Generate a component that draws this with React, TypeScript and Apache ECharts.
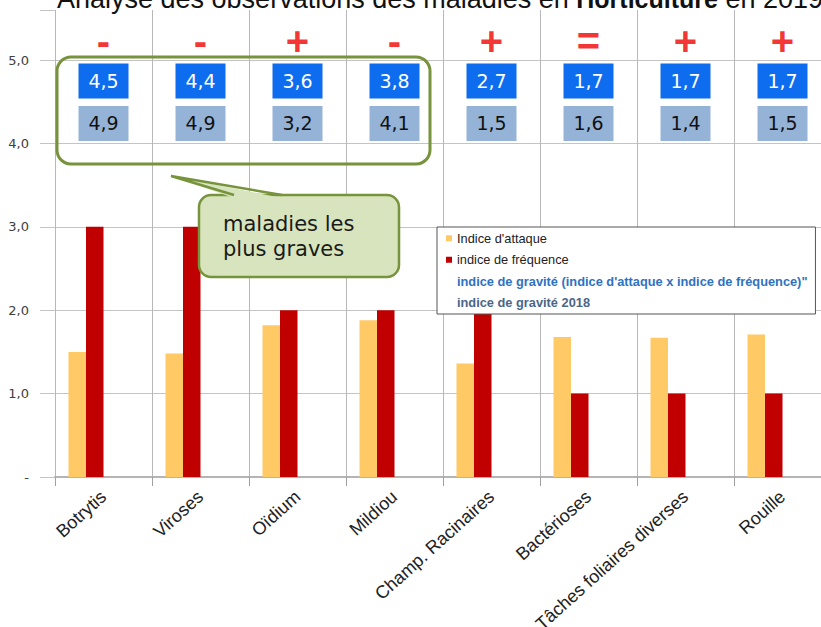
import React, { useEffect, useRef } from "react";
import * as echarts from "echarts";

const categories = [
  "Botrytis",
  "Viroses",
  "Oïdium",
  "Mildiou",
  "Champ. Racinaires",
  "Bactérioses",
  "Tâches foliaires diverses",
  "Rouille",
];
const indiceAttaque = [1.5, 1.48, 1.82, 1.88, 1.36, 1.68, 1.67, 1.71];
const indiceFrequence = [3, 3, 2, 2, 2, 1, 1, 1];
const indiceGravite = [4.5, 4.4, 3.6, 3.8, 2.7, 1.7, 1.7, 1.7];
const indiceGravite2018 = [4.9, 4.9, 3.2, 4.1, 1.5, 1.6, 1.4, 1.5];
const tendances = ["-", "-", "+", "-", "+", "=", "+", "+"];
const yTicks = [0, 1, 2, 3, 4, 5];

const NAME_ATT = "Indice d'attaque";
const NAME_FREQ = "indice de fréquence";
const NAME_GRAV = "indice de gravité (indice d'attaque x indice de fréquence)\"";
const NAME_GRAV18 = "indice de gravité 2018";
const TITLE_A = "Analyse des observations des maladies en ";
const TITLE_B = "Horticulture";
const TITLE_C = " en 2019";

// layout rows (value-axis positions of the annotation rows)
const ROW_SIGN = 5.23;
const ROW_GRAV = 4.75;
const ROW_GRAV18 = 4.24;

const fmt = (v: number) => v.toFixed(1).replace(".", ",");

export default function App() {
  const ref = useRef<HTMLDivElement>(null);
  useEffect(() => {
    document.body.style.margin = "0";
    const chart = echarts.init(ref.current!, null, { renderer: "svg" });
    const splitColors = yTicks.map(() => "#C4C4C4").concat(["rgba(0,0,0,0)"]);
    const option: any = {
      animation: false,
      backgroundColor: "#ffffff",
      grid: {
        left: 55,
        top: 10,
        right: 9,
        bottom: 150,
        containLabel: false,
        outerBoundsMode: "none",
      },
      legend: {
        orient: "vertical",
        left: 437,
        top: 227,
        itemWidth: 6,
        itemHeight: 6,
        itemGap: 7,
        icon: "rect",
        padding: [4, 8, 4, 9],
        backgroundColor: "#ffffff",
        borderColor: "#555555",
        borderWidth: 1,
        borderRadius: 0,
        selectedMode: false,
        textStyle: { fontFamily: "Liberation Sans", fontSize: 12.8, color: "#222", lineHeight: 14.5 },
        data: [
          { name: NAME_ATT },
          { name: NAME_FREQ },
          {
            name: NAME_GRAV,
            itemStyle: { opacity: 0 },
            textStyle: { color: "#2E72C2", fontWeight: "bold" },
          },
          {
            name: NAME_GRAV18,
            itemStyle: { opacity: 0 },
            textStyle: { color: "#4B6688", fontWeight: "bold" },
          },
        ],
      },
      xAxis: {
        type: "category",
        data: categories,
        boundaryGap: true,
        axisLine: { show: true, lineStyle: { color: "#B4B4B4", width: 2 } },
        axisTick: { show: true, length: 9, interval: 0, lineStyle: { color: "#A0A0A0" } },
        splitLine: { show: true, interval: 0, lineStyle: { color: "#B8B8B8", width: 1 } },
        axisLabel: {
          interval: 0,
          rotate: 42,
          margin: 17,
          fontFamily: "Liberation Sans",
          fontSize: 18,
          color: "#222",
        },
      },
      yAxis: {
        type: "value",
        min: 0,
        max: 5.6,
        interval: 1,
        axisLine: { show: false },
        axisTick: { show: true, length: 15, lineStyle: { color: "#C4C4C4" } },
        splitLine: { show: true, lineStyle: { color: splitColors, width: 1 } },
        axisLabel: {
          margin: 26,
          fontFamily: "DejaVu Sans",
          fontSize: 13,
          color: "#404040",
          formatter: (v: number) => (v === 0 ? "-" : Number.isInteger(v) ? fmt(v) : ""),
        },
      },
      series: [
        {
          name: NAME_ATT,
          type: "bar",
          data: indiceAttaque,
          barWidth: 17.5,
          barGap: "0%",
          itemStyle: { color: "#FFC966" },
          z: 2,
        },
        {
          name: NAME_FREQ,
          type: "bar",
          data: indiceFrequence,
          barWidth: 17.5,
          barGap: "0%",
          itemStyle: { color: "#C00000" },
          z: 2,
        },
        { name: "_slot3", type: "bar", data: categories.map(() => null), barWidth: 17.5, barGap: "0%" },
        { name: "_slot4", type: "bar", data: categories.map(() => null), barWidth: 17.5, barGap: "0%" },
        {
          name: NAME_GRAV,
          type: "scatter",
          symbol: "rect",
          symbolSize: [50, 35],
          itemStyle: { color: "#0E6DEF", opacity: 1 },
          data: indiceGravite.map((v, i) => ({ value: [i, ROW_GRAV], grav: v })),
          label: {
            show: true,
            position: "inside",
            fontFamily: "DejaVu Sans",
            fontSize: 19,
            color: "#ffffff",
            formatter: (p: any) => fmt(indiceGravite[p.dataIndex]),
          },
          z: 5,
        },
        {
          name: NAME_GRAV18,
          type: "scatter",
          symbol: "rect",
          symbolSize: [50, 35],
          itemStyle: { color: "#95B3D7", opacity: 1 },
          data: indiceGravite2018.map((v, i) => ({ value: [i, ROW_GRAV18], grav: v })),
          label: {
            show: true,
            position: "inside",
            fontFamily: "DejaVu Sans",
            fontSize: 19,
            color: "#111111",
            formatter: (p: any) => fmt(indiceGravite2018[p.dataIndex]),
          },
          z: 5,
        },
        {
          name: "_tendance",
          type: "scatter",
          symbolSize: 1,
          itemStyle: { color: "rgba(0,0,0,0)" },
          data: tendances.map((t, i) => [i, ROW_SIGN]),
          label: {
            show: true,
            position: "inside",
            fontFamily: "Liberation Sans",
            fontWeight: "bold",
            fontSize: 40,
            color: "#F00000",
            formatter: (p: any) => tendances[p.dataIndex],
          },
          z: 5,
        },
      ],
      graphic: [
        {
          type: "text",
          left: 57,
          top: -15,
          z: 10,
          style: {
            text: "{a|" + TITLE_A + "}{b|" + TITLE_B + "}{a|" + TITLE_C + "}",
            rich: {
              a: { fontFamily: "Liberation Sans", fontSize: 27, fill: "#111" },
              b: { fontFamily: "Liberation Sans", fontSize: 25, fontWeight: "bold", fill: "#111" },
            },
          },
        },
        {
          type: "rect",
          z: 20,
          shape: { x: 57, y: 57, width: 373, height: 107, r: 14 },
          style: { fill: "none", stroke: "#77933C", lineWidth: 3 },
        },
        {
          type: "rect",
          z: 20,
          shape: { x: 199, y: 195, width: 200, height: 82, r: 12 },
          style: { fill: "#D7E4BD", stroke: "#77933C", lineWidth: 2.5 },
        },
        {
          type: "polygon",
          z: 21,
          shape: { points: [[234, 198], [171, 176], [282, 198]] },
          style: { fill: "#D7E4BD", stroke: "none" },
        },
        {
          type: "polyline",
          z: 21,
          shape: { points: [[234, 195], [171, 176], [282, 195]] },
          style: { fill: "none", stroke: "#77933C", lineWidth: 2.5 },
        },
        {
          type: "text",
          z: 22,
          x: 223,
          y: 211,
          style: {
            text: "maladies les\nplus graves",
            fontFamily: "DejaVu Sans",
            fontSize: 21,
            lineHeight: 25,
            fill: "#1a1a1a",
            verticalAlign: "top",
          },
        },
      ],
    };
    chart.setOption(option);
    return () => chart.dispose();
  }, []);
  return (
    <div style={{ width: 821, height: 627, overflow: "hidden", position: "relative" }}>
      <div ref={ref} style={{ width: 840, height: 627 }} />
    </div>
  );
}
